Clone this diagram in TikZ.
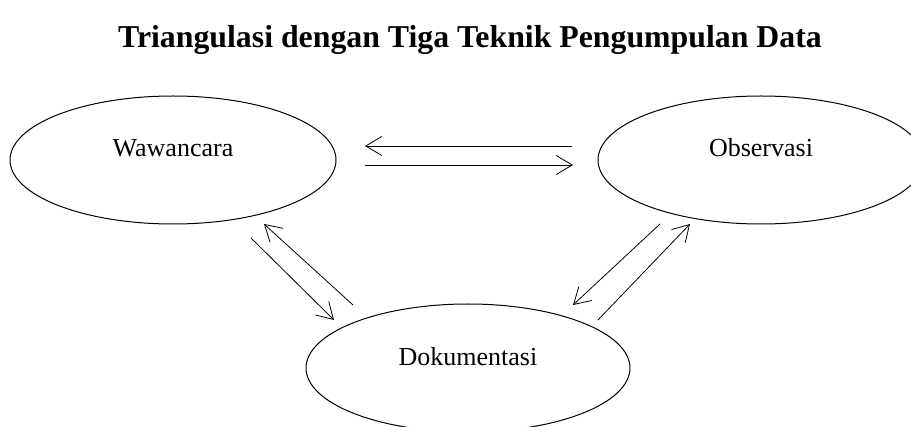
\documentclass[tikz,border=0pt]{standalone}
\usepackage{fontspec}
\setmainfont{Liberation Serif}
\usetikzlibrary{shapes.geometric,arrows.meta}
\begin{document}
\begin{tikzpicture}[x=0.5pt,y=-0.5pt,
  oval/.style={draw,ellipse,line width=0.5pt,minimum width=163pt,minimum height=64pt,inner sep=0pt},
  lbl/.style={font=\fontsize{13}{15}\selectfont},
  arr/.style={line width=0.4pt,-{Straight Barb[length=8pt,width=9.5pt,line width=0.4pt]}}]
\useasboundingbox (0,0) rectangle (911,427);
\node[font=\bfseries\fontsize{15.9}{18}\selectfont] (title) at (470,40) {Triangulasi dengan Tiga Teknik Pengumpulan Data};
\node[oval,label={[lbl,yshift=6pt]center:Wawancara}] (w) at (173,160) {};
\node[oval,label={[lbl,yshift=6pt]center:Observasi}] (o) at (761,160) {};
\node[oval,minimum width=162pt,label={[lbl,yshift=5.5pt]center:Dokumentasi}] (d) at (468,368) {};
% connector end points
\coordinate (wo1) at (572,146); \coordinate (wo2) at (365,146);
\coordinate (wo3) at (365,165); \coordinate (wo4) at (573,165);
\coordinate (dw1) at (353,305); \coordinate (dw2) at (264,224);
\coordinate (wd1) at (251,238); \coordinate (wd2) at (334,320);
\coordinate (od1) at (660,224); \coordinate (od2) at (573,305);
\coordinate (do1) at (598,320); \coordinate (do2) at (690,224);
\draw[arr] (wo1) -- (wo2);
\draw[arr] (wo3) -- (wo4);
\draw[arr] (dw1) -- (dw2);
\draw[arr] (wd1) -- (wd2);
\draw[arr] (od1) -- (od2);
\draw[arr] (do1) -- (do2);
\end{tikzpicture}
\end{document}
